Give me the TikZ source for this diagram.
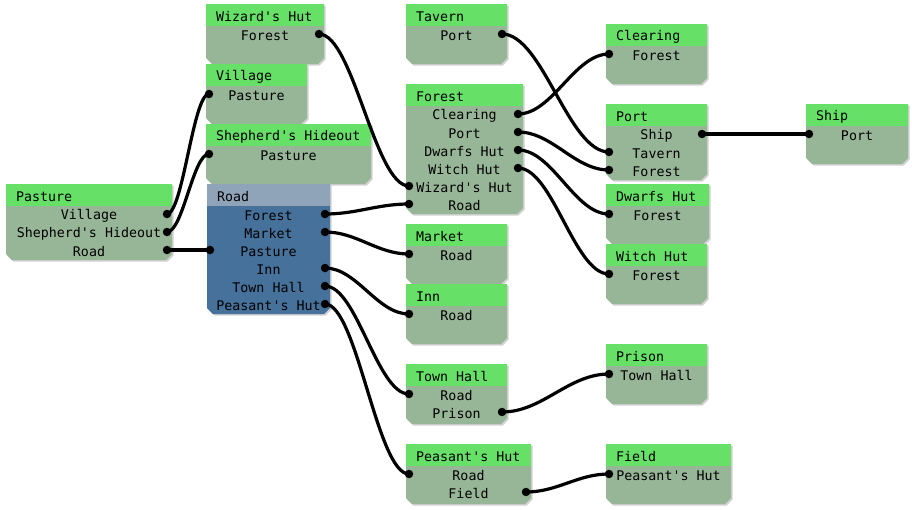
\documentclass[tikz,border=0pt]{standalone}
\usepackage{fontspec}
\setmonofont{DejaVu Sans Mono}
\usetikzlibrary{calc}

\definecolor{headgreen}{HTML}{66E066}
\definecolor{bodygreen}{HTML}{97B697}
\definecolor{headblue}{HTML}{8FA4B8}
\definecolor{bodyblue}{HTML}{46719B}

\tikzset{
  box/.style={fill=bodygreen},
  head/.style={fill=headgreen},
  roadbox/.style={fill=bodyblue},
  roadhead/.style={fill=headblue},
  boxshadow/.style={fill=black!18},
  title/.style={anchor=west, inner sep=0pt, font=\ttfamily\fontsize{13.3}{15}\selectfont},
  entry/.style={inner sep=0pt, font=\ttfamily\fontsize{13.3}{15}\selectfont},
  wire/.style={line width=3.2pt},
  dot/.style={circle, fill=black, inner sep=0pt, minimum size=8.5pt}
}

% [style prefix]{id}{left}{top}{width}{height}{title}
\newcommand{\room}[7][]{%
  \def\rl{#3}\def\rt{#4}\def\rw{#5}%
  \fill[boxshadow, xshift=1.5pt, yshift=-1.5pt] (#3,#4) -- ++(#5,0) -- ++(0,#6-6)
    -- ++(-6,6) -- ++(-#5+12,0) -- ++(-6,-6) -- cycle;
  \fill[#1box] (#3,#4) -- ++(#5,0) -- ++(0,#6-6)
    -- ++(-6,6) -- ++(-#5+12,0) -- ++(-6,-6) -- cycle;
  \fill[#1head] (#3,#4) rectangle ++(#5,22);
  \node[title] (#2) at (#3+10,#4+12.5) {#7};
}
% {id}{row}{text}
\newcommand{\entry}[3]{%
  \node[entry] (#1) at (\rl+\rw/2,\rt+31.5+18*#2) {#3};
  \coordinate (#1-w) at (\rl+3,\rt+30+18*#2);
  \coordinate (#1-e) at (\rl+\rw-5,\rt+30+18*#2);
}
\newcommand{\link}[2]{%
  \draw[wire] let \p1=(#1), \p2=(#2), \n1={0.38*(\x2-\x1)} in
    (#1) .. controls +(\n1,0) and +(-\n1,0) .. (#2);
  \node[dot] at (#1) {};
  \node[dot] at (#2) {};
}

\begin{document}
\begin{tikzpicture}[x=1pt,y=-1pt]
  \fill[white] (0,0) rectangle (912,509);
  \useasboundingbox (0,0) rectangle (912,509);

  % first column
  \room{pasture}{6}{184}{166}{76}{Pasture}
  \entry{pasture-village}{0}{Village}
  \entry{pasture-shepherd}{1}{Shepherd's Hideout}
  \entry{pasture-road}{2}{Road}

  % second column
  \room{wizard}{206}{4}{118}{60}{Wizard's Hut}
  \entry{wizard-forest}{0}{Forest}
  \room{village}{206}{64}{101}{60}{Village}
  \entry{village-pasture}{0}{Pasture}
  \room{shepherd}{206}{124}{165}{60}{Shepherd's Hideout}
  \entry{shepherd-pasture}{0}{Pasture}
  \room[road]{road}{207}{184}{123}{130}{Road}
  \entry{road-forest}{0}{Forest}
  \entry{road-market}{1}{Market}
  \entry{road-pasture}{2}{Pasture}
  \entry{road-inn}{3}{Inn}
  \entry{road-townhall}{4}{Town Hall}
  \entry{road-peasant}{5}{Peasant's Hut}

  % third column
  \room{tavern}{406}{4}{101}{60}{Tavern}
  \entry{tavern-port}{0}{Port}
  \room{forest}{406}{84}{117}{130}{Forest}
  \entry{forest-clearing}{0}{Clearing}
  \entry{forest-port}{1}{Port}
  \entry{forest-dwarfs}{2}{Dwarfs Hut}
  \entry{forest-witch}{3}{Witch Hut}
  \entry{forest-wizard}{4}{Wizard's Hut}
  \entry{forest-road}{5}{Road}
  \room{market}{406}{224}{101}{60}{Market}
  \entry{market-road}{0}{Road}
  \room{inn}{406}{284}{101}{60}{Inn}
  \entry{inn-road}{0}{Road}
  \room{townhall}{406}{364}{101}{60}{Town Hall}
  \entry{townhall-road}{0}{Road}
  \entry{townhall-prison}{1}{Prison}
  \room{peasant}{406}{444}{125}{60}{Peasant's Hut}
  \entry{peasant-road}{0}{Road}
  \entry{peasant-field}{1}{Field}

  % fourth column
  \room{clearing}{606}{24}{101}{60}{Clearing}
  \entry{clearing-forest}{0}{Forest}
  \room{port}{606}{104}{101}{76}{Port}
  \entry{port-ship}{0}{Ship}
  \entry{port-tavern}{1}{Tavern}
  \entry{port-forest}{2}{Forest}
  \room{dwarfs}{606}{184}{103}{60}{Dwarfs Hut}
  \entry{dwarfs-forest}{0}{Forest}
  \room{witch}{606}{244}{101}{60}{Witch Hut}
  \entry{witch-forest}{0}{Forest}
  \room{prison}{606}{344}{101}{60}{Prison}
  \entry{prison-townhall}{0}{Town Hall}
  \room{field}{606}{444}{125}{60}{Field}
  \entry{field-peasant}{0}{Peasant's Hut}

  % last column
  \room{ship}{806}{104}{102}{60}{Ship}
  \entry{ship-port}{0}{Port}

  % connections
  \link{pasture-village-e}{village-pasture-w}
  \link{pasture-shepherd-e}{shepherd-pasture-w}
  \link{pasture-road-e}{road-pasture-w}
  \link{wizard-forest-e}{forest-wizard-w}
  \link{road-forest-e}{forest-road-w}
  \link{road-market-e}{market-road-w}
  \link{road-inn-e}{inn-road-w}
  \link{road-townhall-e}{townhall-road-w}
  \link{road-peasant-e}{peasant-road-w}
  \link{tavern-port-e}{port-tavern-w}
  \link{forest-clearing-e}{clearing-forest-w}
  \link{forest-port-e}{port-forest-w}
  \link{forest-dwarfs-e}{dwarfs-forest-w}
  \link{forest-witch-e}{witch-forest-w}
  \link{port-ship-e}{ship-port-w}
  \link{townhall-prison-e}{prison-townhall-w}
  \link{peasant-field-e}{field-peasant-w}
\end{tikzpicture}
\end{document}
